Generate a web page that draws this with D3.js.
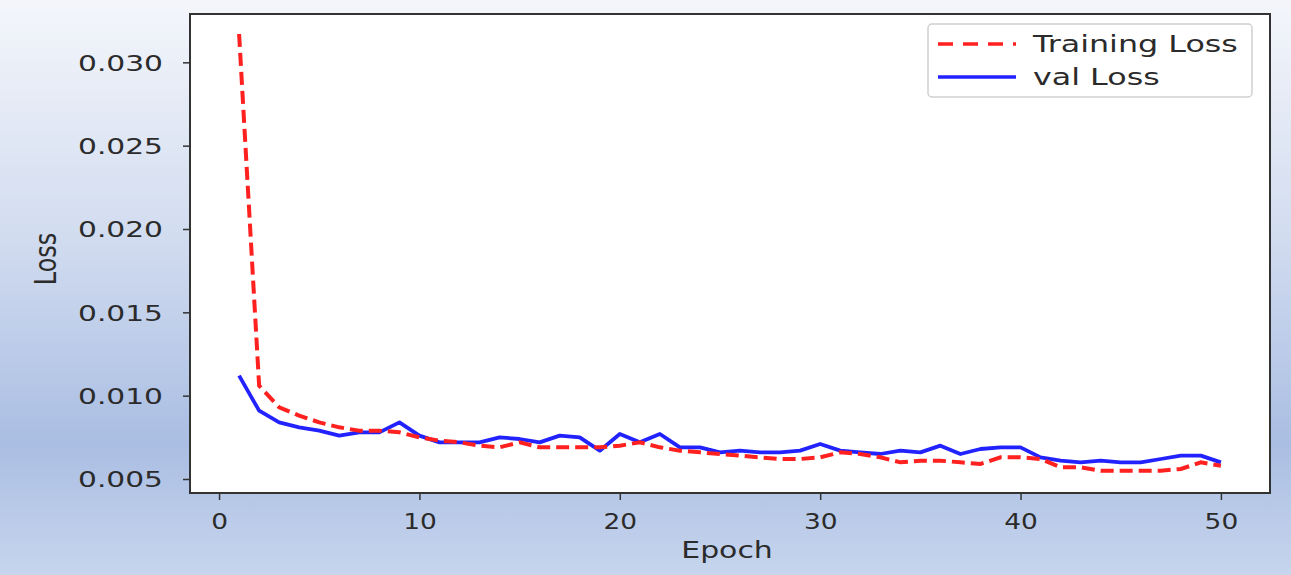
<!DOCTYPE html>
<html>
<head>
<meta charset="utf-8">
<script src="https://cdn.jsdelivr.net/npm/d3@7"></script>
<style>
  html, body { margin: 0; padding: 0; }
  body { width: 1291px; height: 575px; overflow: hidden; }
  text { font-family: "DejaVu Sans", sans-serif; fill: #2b2b2b; }
</style>
</head>
<body>
<div id="chart"></div>
<script>
// data
let epochs = d3.range(1, 51);
let trainingLoss = [
    0.0317, 0.0106, 0.0093, 0.0088, 0.0084, 0.0081, 0.0079, 0.0079, 0.0078, 0.0075,
    0.0073, 0.0072, 0.0070, 0.0069, 0.0072, 0.0069, 0.0069, 0.0069, 0.0069, 0.0070,
    0.0072, 0.0069, 0.0067, 0.0066, 0.0065, 0.0064, 0.0063, 0.0062, 0.0062, 0.0063,
    0.0066, 0.0065, 0.0063, 0.0060, 0.0061, 0.0061, 0.0060, 0.0059, 0.0063, 0.0063,
    0.0062, 0.0057, 0.0057, 0.0055, 0.0055, 0.0055, 0.0055, 0.0056, 0.0060, 0.0058
];
let valLoss = [
    0.0112, 0.0091, 0.0084, 0.0081, 0.0079, 0.0076, 0.0078, 0.0078, 0.0084, 0.0076,
    0.0072, 0.0072, 0.0072, 0.0075, 0.0074, 0.0072, 0.0076, 0.0075, 0.0067, 0.0077,
    0.0072, 0.0077, 0.0069, 0.0069, 0.0066, 0.0067, 0.0066, 0.0066, 0.0067, 0.0071,
    0.0067, 0.0066, 0.0065, 0.0067, 0.0066, 0.0070, 0.0065, 0.0068, 0.0069, 0.0069,
    0.0063, 0.0061, 0.0060, 0.0061, 0.0060, 0.0060, 0.0062, 0.0064, 0.0064, 0.0060
];
let xTicks = [0, 10, 20, 30, 40, 50];
let yTicks = [0.005, 0.010, 0.015, 0.020, 0.025, 0.030];
let seriesNames = ['Training Loss', 'val Loss'];

//#region variables
let width = 1291,
    height = 575,
    plotLeft = 190, plotRight = 1270,
    plotTop = 14, plotBottom = 493,
    stretch = 1.3;
//#endregion

let svg = d3.select('#chart')
    .append('svg')
    .attr('width', width)
    .attr('height', height);

//#region background
let grad = svg.append('defs').append('linearGradient')
    .attr('id', 'bg')
    .attr('x1', 0).attr('y1', 0).attr('x2', 0).attr('y2', 1);
grad.append('stop').attr('offset', '0%').attr('stop-color', '#f4f6fb');
grad.append('stop').attr('offset', '40%').attr('stop-color', '#d3ddf0');
grad.append('stop').attr('offset', '77%').attr('stop-color', '#aabee3');
grad.append('stop').attr('offset', '100%').attr('stop-color', '#c7d5ed');

svg.append('rect')
    .attr('width', width)
    .attr('height', height)
    .attr('fill', 'url(#bg)');

svg.append('rect')
    .attr('x', plotLeft).attr('y', plotTop)
    .attr('width', plotRight - plotLeft).attr('height', plotBottom - plotTop)
    .attr('fill', '#fff');
//#endregion

//#region scales
let xScale = d3.scaleLinear()
    .domain([-1.45, 52.45])
    .range([plotLeft, plotRight]);

let yScale = d3.scaleLinear()
    .domain([0.00416, 0.0329])
    .range([plotBottom, plotTop]);
//#endregion

//#region axes
let axisX = d3.axisBottom(xScale).tickValues(xTicks).tickSize(7).tickFormat(d3.format('d'));
let axisY = d3.axisLeft(yScale).tickValues(yTicks).tickSize(7).tickFormat(d3.format('.3f'));

let gx = svg.append('g')
    .attr('transform', `translate(0, ${plotBottom})`)
    .call(axisX);
gx.select('.domain').remove();
gx.selectAll('line').attr('stroke', '#333').attr('stroke-width', 1.5);
gx.selectAll('text')
    .attr('x', 0).attr('y', 0).attr('dy', null)
    .attr('transform', 'translate(0, 36) scale(1.2, 1)')
    .style('font-size', '22px')
    .attr('fill', '#2b2b2b');

let gy = svg.append('g')
    .attr('transform', `translate(${plotLeft}, 0)`)
    .call(axisY);
gy.select('.domain').remove();
gy.selectAll('line').attr('stroke', '#333').attr('stroke-width', 1.5);
gy.selectAll('text')
    .attr('x', 0).attr('dy', '0.36em')
    .attr('transform', `translate(-27, 0) scale(1.35, 1)`)
    .style('font-size', '22px')
    .attr('fill', '#2b2b2b');

svg.append('text')
    .attr('text-anchor', 'middle')
    .attr('transform', `translate(727, 558) scale(${stretch}, 1)`)
    .style('font-size', '23px')
    .text('Epoch');

svg.append('text')
    .attr('text-anchor', 'middle')
    .attr('transform', 'translate(56, 259) rotate(-90) scale(0.8, 1)')
    .style('font-size', '30px')
    .text('Loss');
//#endregion

//#region lines
let line = d3.line()
    .x((d, i) => xScale(epochs[i]))
    .y(d => yScale(d));

svg.append('path')
    .datum(valLoss)
    .attr('fill', 'none')
    .attr('stroke', '#2222ff')
    .attr('stroke-width', 3.8)
    .attr('stroke-linejoin', 'round')
    .attr('d', line);

svg.append('path')
    .datum(trainingLoss)
    .attr('fill', 'none')
    .attr('stroke', '#ff2020')
    .attr('stroke-width', 4)
    .attr('stroke-dasharray', '13,6')
    .attr('d', line);
//#endregion

// frame
svg.append('rect')
    .attr('x', plotLeft).attr('y', plotTop)
    .attr('width', plotRight - plotLeft).attr('height', plotBottom - plotTop)
    .attr('fill', 'none')
    .attr('stroke', '#333')
    .attr('stroke-width', 2);

//#region legend
let legend = svg.append('g').attr('transform', 'translate(928, 24)');
legend.append('rect')
    .attr('width', 324).attr('height', 73)
    .attr('rx', 4)
    .attr('fill', '#fff')
    .attr('stroke', '#d0d0d0')
    .attr('stroke-width', 1.5);

let legendStyles = [
    {color: '#ff2020', dash: '15,10'},
    {color: '#2222ff', dash: null}
];
seriesNames.forEach((name, i) => {
    let y = 20 + i * 33;
    legend.append('line')
        .attr('x1', 10).attr('x2', 88)
        .attr('y1', y).attr('y2', y)
        .attr('stroke', legendStyles[i].color)
        .attr('stroke-width', 3.6)
        .attr('stroke-dasharray', legendStyles[i].dash);
    legend.append('text')
        .attr('transform', `translate(105, ${y + 8}) scale(1.38, 1)`)
        .style('font-size', '23px')
        .text(name);
});
//#endregion
</script>
</body>
</html>
